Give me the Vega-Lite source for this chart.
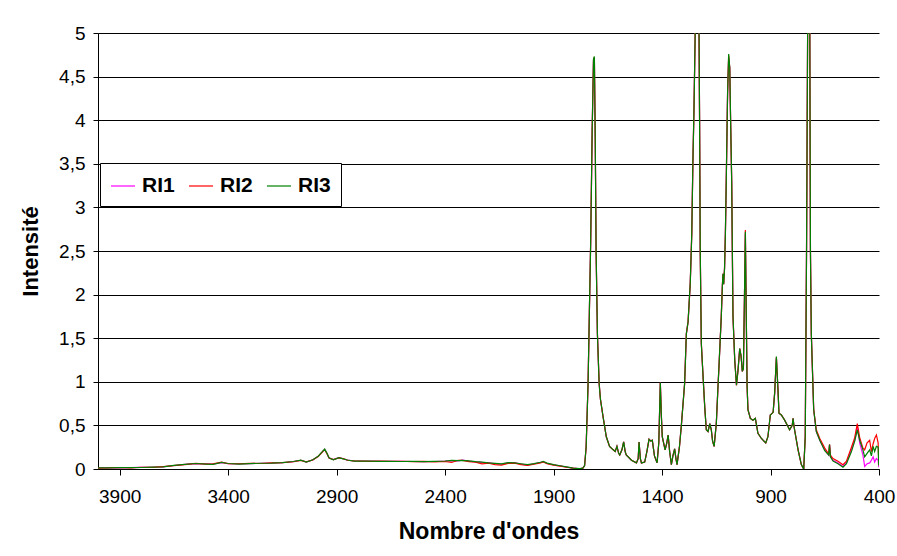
{
  "$schema": "https://vega.github.io/schema/vega-lite/v6.json",
  "width": 781,
  "height": 436,
  "autosize": {"type": "none"},
  "padding": {"left": 98, "top": 33, "right": 18, "bottom": 87},
  "background": "white",
  "config": {
    "font": "Liberation Sans",
    "view": {"stroke": null},
    "axis": {"labelColor": "black", "titleColor": "black", "domainColor": "black", "tickColor": "black", "labelFont": "Liberation Sans", "titleFont": "Liberation Sans"}
  },
  "data": {
    "values": [
      {"nombre": 4000, "RI1": 0.012, "RI2": 0.010, "RI3": 0.014},
      {"nombre": 3950, "RI1": 0.015, "RI2": 0.012, "RI3": 0.013},
      {"nombre": 3900, "RI1": 0.014, "RI2": 0.017, "RI3": 0.015},
      {"nombre": 3850, "RI1": 0.016, "RI2": 0.013, "RI3": 0.015},
      {"nombre": 3800, "RI1": 0.018, "RI2": 0.020, "RI3": 0.017},
      {"nombre": 3750, "RI1": 0.020, "RI2": 0.018, "RI3": 0.021},
      {"nombre": 3700, "RI1": 0.025, "RI2": 0.028, "RI3": 0.024},
      {"nombre": 3650, "RI1": 0.040, "RI2": 0.038, "RI3": 0.042},
      {"nombre": 3600, "RI1": 0.052, "RI2": 0.050, "RI3": 0.054},
      {"nombre": 3550, "RI1": 0.062, "RI2": 0.065, "RI3": 0.063},
      {"nombre": 3500, "RI1": 0.058, "RI2": 0.055, "RI3": 0.057},
      {"nombre": 3470, "RI1": 0.055, "RI2": 0.058, "RI3": 0.054},
      {"nombre": 3430, "RI1": 0.074, "RI2": 0.078, "RI3": 0.075},
      {"nombre": 3400, "RI1": 0.062, "RI2": 0.060, "RI3": 0.063},
      {"nombre": 3350, "RI1": 0.058, "RI2": 0.060, "RI3": 0.057},
      {"nombre": 3300, "RI1": 0.062, "RI2": 0.064, "RI3": 0.061},
      {"nombre": 3250, "RI1": 0.065, "RI2": 0.063, "RI3": 0.066},
      {"nombre": 3200, "RI1": 0.068, "RI2": 0.070, "RI3": 0.067},
      {"nombre": 3150, "RI1": 0.072, "RI2": 0.074, "RI3": 0.073},
      {"nombre": 3100, "RI1": 0.085, "RI2": 0.083, "RI3": 0.086},
      {"nombre": 3065, "RI1": 0.100, "RI2": 0.098, "RI3": 0.101},
      {"nombre": 3040, "RI1": 0.080, "RI2": 0.082, "RI3": 0.079},
      {"nombre": 3010, "RI1": 0.105, "RI2": 0.103, "RI3": 0.106},
      {"nombre": 2985, "RI1": 0.145, "RI2": 0.143, "RI3": 0.146},
      {"nombre": 2965, "RI1": 0.200, "RI2": 0.198, "RI3": 0.202},
      {"nombre": 2955, "RI1": 0.225, "RI2": 0.222, "RI3": 0.228},
      {"nombre": 2945, "RI1": 0.180, "RI2": 0.178, "RI3": 0.182},
      {"nombre": 2935, "RI1": 0.126, "RI2": 0.125, "RI3": 0.128},
      {"nombre": 2915, "RI1": 0.107, "RI2": 0.108, "RI3": 0.106},
      {"nombre": 2890, "RI1": 0.130, "RI2": 0.128, "RI3": 0.131},
      {"nombre": 2870, "RI1": 0.118, "RI2": 0.120, "RI3": 0.117},
      {"nombre": 2850, "RI1": 0.102, "RI2": 0.100, "RI3": 0.103},
      {"nombre": 2820, "RI1": 0.092, "RI2": 0.093, "RI3": 0.091},
      {"nombre": 2750, "RI1": 0.090, "RI2": 0.088, "RI3": 0.091},
      {"nombre": 2700, "RI1": 0.089, "RI2": 0.091, "RI3": 0.088},
      {"nombre": 2650, "RI1": 0.088, "RI2": 0.087, "RI3": 0.089},
      {"nombre": 2600, "RI1": 0.087, "RI2": 0.089, "RI3": 0.086},
      {"nombre": 2550, "RI1": 0.086, "RI2": 0.085, "RI3": 0.087},
      {"nombre": 2500, "RI1": 0.085, "RI2": 0.087, "RI3": 0.084},
      {"nombre": 2450, "RI1": 0.086, "RI2": 0.082, "RI3": 0.088},
      {"nombre": 2400, "RI1": 0.090, "RI2": 0.086, "RI3": 0.092},
      {"nombre": 2370, "RI1": 0.095, "RI2": 0.075, "RI3": 0.098},
      {"nombre": 2340, "RI1": 0.092, "RI2": 0.100, "RI3": 0.095},
      {"nombre": 2320, "RI1": 0.102, "RI2": 0.098, "RI3": 0.100},
      {"nombre": 2290, "RI1": 0.090, "RI2": 0.085, "RI3": 0.093},
      {"nombre": 2260, "RI1": 0.082, "RI2": 0.078, "RI3": 0.084},
      {"nombre": 2230, "RI1": 0.075, "RI2": 0.060, "RI3": 0.078},
      {"nombre": 2200, "RI1": 0.072, "RI2": 0.068, "RI3": 0.070},
      {"nombre": 2170, "RI1": 0.060, "RI2": 0.050, "RI3": 0.064},
      {"nombre": 2140, "RI1": 0.055, "RI2": 0.045, "RI3": 0.058},
      {"nombre": 2110, "RI1": 0.070, "RI2": 0.065, "RI3": 0.072},
      {"nombre": 2080, "RI1": 0.072, "RI2": 0.068, "RI3": 0.070},
      {"nombre": 2050, "RI1": 0.055, "RI2": 0.050, "RI3": 0.060},
      {"nombre": 2020, "RI1": 0.045, "RI2": 0.040, "RI3": 0.050},
      {"nombre": 1990, "RI1": 0.060, "RI2": 0.055, "RI3": 0.062},
      {"nombre": 1960, "RI1": 0.075, "RI2": 0.070, "RI3": 0.077},
      {"nombre": 1948, "RI1": 0.085, "RI2": 0.082, "RI3": 0.086},
      {"nombre": 1930, "RI1": 0.065, "RI2": 0.060, "RI3": 0.068},
      {"nombre": 1900, "RI1": 0.048, "RI2": 0.045, "RI3": 0.050},
      {"nombre": 1870, "RI1": 0.035, "RI2": 0.032, "RI3": 0.037},
      {"nombre": 1840, "RI1": 0.022, "RI2": 0.020, "RI3": 0.024},
      {"nombre": 1810, "RI1": 0.010, "RI2": 0.009, "RI3": 0.011},
      {"nombre": 1780, "RI1": 0.003, "RI2": 0.002, "RI3": 0.004},
      {"nombre": 1765, "RI1": 0.010, "RI2": 0.010, "RI3": 0.010},
      {"nombre": 1757, "RI1": 0.04, "RI2": 0.04, "RI3": 0.04},
      {"nombre": 1750, "RI1": 0.25, "RI2": 0.25, "RI3": 0.25},
      {"nombre": 1741, "RI1": 0.98, "RI2": 0.98, "RI3": 0.98},
      {"nombre": 1735, "RI1": 1.8, "RI2": 1.8, "RI3": 1.8},
      {"nombre": 1729, "RI1": 2.6, "RI2": 2.6, "RI3": 2.6},
      {"nombre": 1722, "RI1": 3.9, "RI2": 3.9, "RI3": 3.9},
      {"nombre": 1716, "RI1": 4.68, "RI2": 4.69, "RI3": 4.70},
      {"nombre": 1712, "RI1": 4.71, "RI2": 4.72, "RI3": 4.73},
      {"nombre": 1708, "RI1": 3.8, "RI2": 3.8, "RI3": 3.8},
      {"nombre": 1704, "RI1": 2.5, "RI2": 2.5, "RI3": 2.5},
      {"nombre": 1698, "RI1": 1.55, "RI2": 1.55, "RI3": 1.55},
      {"nombre": 1690, "RI1": 0.98, "RI2": 0.98, "RI3": 0.98},
      {"nombre": 1684, "RI1": 0.80, "RI2": 0.80, "RI3": 0.80},
      {"nombre": 1672, "RI1": 0.60, "RI2": 0.60, "RI3": 0.60},
      {"nombre": 1657, "RI1": 0.37, "RI2": 0.37, "RI3": 0.37},
      {"nombre": 1642, "RI1": 0.26, "RI2": 0.26, "RI3": 0.26},
      {"nombre": 1625, "RI1": 0.22, "RI2": 0.22, "RI3": 0.22},
      {"nombre": 1616, "RI1": 0.20, "RI2": 0.20, "RI3": 0.20},
      {"nombre": 1608, "RI1": 0.26, "RI2": 0.26, "RI3": 0.26},
      {"nombre": 1600, "RI1": 0.18, "RI2": 0.18, "RI3": 0.18},
      {"nombre": 1595, "RI1": 0.16, "RI2": 0.16, "RI3": 0.16},
      {"nombre": 1585, "RI1": 0.22, "RI2": 0.22, "RI3": 0.22},
      {"nombre": 1577, "RI1": 0.31, "RI2": 0.31, "RI3": 0.31},
      {"nombre": 1570, "RI1": 0.20, "RI2": 0.20, "RI3": 0.20},
      {"nombre": 1565, "RI1": 0.16, "RI2": 0.16, "RI3": 0.16},
      {"nombre": 1541, "RI1": 0.10, "RI2": 0.10, "RI3": 0.10},
      {"nombre": 1518, "RI1": 0.07, "RI2": 0.07, "RI3": 0.07},
      {"nombre": 1510, "RI1": 0.12, "RI2": 0.12, "RI3": 0.12},
      {"nombre": 1506, "RI1": 0.31, "RI2": 0.31, "RI3": 0.31},
      {"nombre": 1500, "RI1": 0.12, "RI2": 0.12, "RI3": 0.12},
      {"nombre": 1495, "RI1": 0.07, "RI2": 0.07, "RI3": 0.07},
      {"nombre": 1480, "RI1": 0.08, "RI2": 0.08, "RI3": 0.08},
      {"nombre": 1470, "RI1": 0.20, "RI2": 0.20, "RI3": 0.20},
      {"nombre": 1460, "RI1": 0.34, "RI2": 0.34, "RI3": 0.34},
      {"nombre": 1452, "RI1": 0.32, "RI2": 0.32, "RI3": 0.32},
      {"nombre": 1445, "RI1": 0.33, "RI2": 0.33, "RI3": 0.33},
      {"nombre": 1435, "RI1": 0.15, "RI2": 0.15, "RI3": 0.15},
      {"nombre": 1423, "RI1": 0.07, "RI2": 0.07, "RI3": 0.07},
      {"nombre": 1415, "RI1": 0.30, "RI2": 0.30, "RI3": 0.30},
      {"nombre": 1408, "RI1": 0.99, "RI2": 0.99, "RI3": 0.99},
      {"nombre": 1403, "RI1": 0.60, "RI2": 0.60, "RI3": 0.60},
      {"nombre": 1399, "RI1": 0.37, "RI2": 0.37, "RI3": 0.37},
      {"nombre": 1386, "RI1": 0.22, "RI2": 0.22, "RI3": 0.22},
      {"nombre": 1378, "RI1": 0.30, "RI2": 0.30, "RI3": 0.30},
      {"nombre": 1372, "RI1": 0.39, "RI2": 0.39, "RI3": 0.39},
      {"nombre": 1365, "RI1": 0.20, "RI2": 0.20, "RI3": 0.20},
      {"nombre": 1357, "RI1": 0.05, "RI2": 0.05, "RI3": 0.05},
      {"nombre": 1350, "RI1": 0.15, "RI2": 0.15, "RI3": 0.15},
      {"nombre": 1342, "RI1": 0.23, "RI2": 0.23, "RI3": 0.23},
      {"nombre": 1336, "RI1": 0.12, "RI2": 0.12, "RI3": 0.12},
      {"nombre": 1331, "RI1": 0.05, "RI2": 0.05, "RI3": 0.05},
      {"nombre": 1320, "RI1": 0.25, "RI2": 0.25, "RI3": 0.25},
      {"nombre": 1311, "RI1": 0.50, "RI2": 0.50, "RI3": 0.50},
      {"nombre": 1296, "RI1": 0.98, "RI2": 0.98, "RI3": 0.98},
      {"nombre": 1288, "RI1": 1.55, "RI2": 1.55, "RI3": 1.55},
      {"nombre": 1280, "RI1": 1.69, "RI2": 1.69, "RI3": 1.69},
      {"nombre": 1270, "RI1": 2.13, "RI2": 2.13, "RI3": 2.13},
      {"nombre": 1263, "RI1": 2.7, "RI2": 2.7, "RI3": 2.7},
      {"nombre": 1258, "RI1": 3.5, "RI2": 3.5, "RI3": 3.5},
      {"nombre": 1253, "RI1": 4.1, "RI2": 4.1, "RI3": 4.1},
      {"nombre": 1246, "RI1": 5.2, "RI2": 5.2, "RI3": 5.2},
      {"nombre": 1238, "RI1": 5.6, "RI2": 5.6, "RI3": 5.6},
      {"nombre": 1230, "RI1": 5.2, "RI2": 5.2, "RI3": 5.2},
      {"nombre": 1227, "RI1": 4.0, "RI2": 4.0, "RI3": 4.0},
      {"nombre": 1224, "RI1": 2.5, "RI2": 2.5, "RI3": 2.5},
      {"nombre": 1219, "RI1": 1.44, "RI2": 1.44, "RI3": 1.44},
      {"nombre": 1211, "RI1": 1.06, "RI2": 1.06, "RI3": 1.06},
      {"nombre": 1203, "RI1": 0.70, "RI2": 0.70, "RI3": 0.70},
      {"nombre": 1196, "RI1": 0.45, "RI2": 0.45, "RI3": 0.45},
      {"nombre": 1188, "RI1": 0.43, "RI2": 0.43, "RI3": 0.43},
      {"nombre": 1180, "RI1": 0.52, "RI2": 0.52, "RI3": 0.52},
      {"nombre": 1173, "RI1": 0.45, "RI2": 0.45, "RI3": 0.45},
      {"nombre": 1167, "RI1": 0.32, "RI2": 0.32, "RI3": 0.32},
      {"nombre": 1160, "RI1": 0.26, "RI2": 0.26, "RI3": 0.26},
      {"nombre": 1150, "RI1": 0.52, "RI2": 0.52, "RI3": 0.52},
      {"nombre": 1143, "RI1": 0.90, "RI2": 0.90, "RI3": 0.90},
      {"nombre": 1137, "RI1": 1.21, "RI2": 1.21, "RI3": 1.21},
      {"nombre": 1127, "RI1": 1.75, "RI2": 1.75, "RI3": 1.75},
      {"nombre": 1122, "RI1": 2.10, "RI2": 2.10, "RI3": 2.10},
      {"nombre": 1119, "RI1": 2.24, "RI2": 2.24, "RI3": 2.24},
      {"nombre": 1116, "RI1": 2.12, "RI2": 2.12, "RI3": 2.12},
      {"nombre": 1112, "RI1": 2.30, "RI2": 2.30, "RI3": 2.30},
      {"nombre": 1108, "RI1": 2.7, "RI2": 2.7, "RI3": 2.7},
      {"nombre": 1104, "RI1": 3.31, "RI2": 3.31, "RI3": 3.31},
      {"nombre": 1098, "RI1": 4.3, "RI2": 4.3, "RI3": 4.3},
      {"nombre": 1093, "RI1": 4.72, "RI2": 4.74, "RI3": 4.76},
      {"nombre": 1088, "RI1": 4.6, "RI2": 4.6, "RI3": 4.6},
      {"nombre": 1084, "RI1": 4.0, "RI2": 4.0, "RI3": 4.0},
      {"nombre": 1079, "RI1": 3.3, "RI2": 3.3, "RI3": 3.3},
      {"nombre": 1076, "RI1": 2.5, "RI2": 2.5, "RI3": 2.5},
      {"nombre": 1073, "RI1": 1.75, "RI2": 1.75, "RI3": 1.75},
      {"nombre": 1065, "RI1": 1.25, "RI2": 1.25, "RI3": 1.25},
      {"nombre": 1057, "RI1": 0.96, "RI2": 0.96, "RI3": 0.96},
      {"nombre": 1050, "RI1": 1.13, "RI2": 1.13, "RI3": 1.13},
      {"nombre": 1042, "RI1": 1.38, "RI2": 1.38, "RI3": 1.38},
      {"nombre": 1036, "RI1": 1.30, "RI2": 1.30, "RI3": 1.30},
      {"nombre": 1030, "RI1": 1.12, "RI2": 1.12, "RI3": 1.12},
      {"nombre": 1025, "RI1": 1.15, "RI2": 1.15, "RI3": 1.15},
      {"nombre": 1020, "RI1": 2.0, "RI2": 2.0, "RI3": 2.0},
      {"nombre": 1016, "RI1": 2.70, "RI2": 2.74, "RI3": 2.72},
      {"nombre": 1012, "RI1": 1.8, "RI2": 1.8, "RI3": 1.8},
      {"nombre": 1008, "RI1": 0.95, "RI2": 0.95, "RI3": 0.95},
      {"nombre": 1004, "RI1": 0.68, "RI2": 0.68, "RI3": 0.68},
      {"nombre": 993, "RI1": 0.58, "RI2": 0.58, "RI3": 0.58},
      {"nombre": 981, "RI1": 0.56, "RI2": 0.56, "RI3": 0.56},
      {"nombre": 970, "RI1": 0.58, "RI2": 0.58, "RI3": 0.58},
      {"nombre": 958, "RI1": 0.41, "RI2": 0.41, "RI3": 0.41},
      {"nombre": 942, "RI1": 0.35, "RI2": 0.35, "RI3": 0.35},
      {"nombre": 922, "RI1": 0.30, "RI2": 0.30, "RI3": 0.30},
      {"nombre": 912, "RI1": 0.37, "RI2": 0.37, "RI3": 0.37},
      {"nombre": 901, "RI1": 0.62, "RI2": 0.62, "RI3": 0.62},
      {"nombre": 888, "RI1": 0.65, "RI2": 0.65, "RI3": 0.65},
      {"nombre": 881, "RI1": 0.87, "RI2": 0.87, "RI3": 0.87},
      {"nombre": 873, "RI1": 1.27, "RI2": 1.28, "RI3": 1.29},
      {"nombre": 865, "RI1": 0.87, "RI2": 0.87, "RI3": 0.87},
      {"nombre": 861, "RI1": 0.64, "RI2": 0.64, "RI3": 0.64},
      {"nombre": 850, "RI1": 0.62, "RI2": 0.62, "RI3": 0.62},
      {"nombre": 835, "RI1": 0.56, "RI2": 0.56, "RI3": 0.56},
      {"nombre": 812, "RI1": 0.45, "RI2": 0.45, "RI3": 0.45},
      {"nombre": 800, "RI1": 0.50, "RI2": 0.50, "RI3": 0.50},
      {"nombre": 796, "RI1": 0.58, "RI2": 0.58, "RI3": 0.58},
      {"nombre": 792, "RI1": 0.49, "RI2": 0.49, "RI3": 0.49},
      {"nombre": 773, "RI1": 0.22, "RI2": 0.22, "RI3": 0.22},
      {"nombre": 758, "RI1": 0.05, "RI2": 0.05, "RI3": 0.05},
      {"nombre": 747, "RI1": 0.0, "RI2": 0.0, "RI3": 0.0},
      {"nombre": 740, "RI1": 0.37, "RI2": 0.37, "RI3": 0.37},
      {"nombre": 734, "RI1": 2.5, "RI2": 2.5, "RI3": 2.5},
      {"nombre": 729, "RI1": 5.0, "RI2": 5.0, "RI3": 5.0},
      {"nombre": 724, "RI1": 6.0, "RI2": 6.0, "RI3": 6.0},
      {"nombre": 719, "RI1": 5.0, "RI2": 5.0, "RI3": 5.0},
      {"nombre": 716, "RI1": 2.5, "RI2": 2.5, "RI3": 2.5},
      {"nombre": 712, "RI1": 1.55, "RI2": 1.55, "RI3": 1.55},
      {"nombre": 701, "RI1": 0.68, "RI2": 0.68, "RI3": 0.68},
      {"nombre": 689, "RI1": 0.43, "RI2": 0.45, "RI3": 0.43},
      {"nombre": 673, "RI1": 0.33, "RI2": 0.35, "RI3": 0.33},
      {"nombre": 650, "RI1": 0.22, "RI2": 0.24, "RI3": 0.21},
      {"nombre": 632, "RI1": 0.16, "RI2": 0.17, "RI3": 0.16},
      {"nombre": 628, "RI1": 0.28, "RI2": 0.28, "RI3": 0.28},
      {"nombre": 624, "RI1": 0.15, "RI2": 0.16, "RI3": 0.14},
      {"nombre": 612, "RI1": 0.10, "RI2": 0.12, "RI3": 0.09},
      {"nombre": 589, "RI1": 0.07, "RI2": 0.09, "RI3": 0.06},
      {"nombre": 566, "RI1": 0.03, "RI2": 0.05, "RI3": 0.02},
      {"nombre": 550, "RI1": 0.07, "RI2": 0.09, "RI3": 0.06},
      {"nombre": 527, "RI1": 0.22, "RI2": 0.25, "RI3": 0.20},
      {"nombre": 512, "RI1": 0.33, "RI2": 0.36, "RI3": 0.32},
      {"nombre": 500, "RI1": 0.48, "RI2": 0.52, "RI3": 0.45},
      {"nombre": 489, "RI1": 0.30, "RI2": 0.36, "RI3": 0.33},
      {"nombre": 474, "RI1": 0.16, "RI2": 0.24, "RI3": 0.22},
      {"nombre": 466, "RI1": 0.03, "RI2": 0.22, "RI3": 0.14},
      {"nombre": 455, "RI1": 0.06, "RI2": 0.30, "RI3": 0.18},
      {"nombre": 443, "RI1": 0.07, "RI2": 0.33, "RI3": 0.22},
      {"nombre": 435, "RI1": 0.10, "RI2": 0.20, "RI3": 0.15},
      {"nombre": 427, "RI1": 0.14, "RI2": 0.29, "RI3": 0.26},
      {"nombre": 420, "RI1": 0.08, "RI2": 0.35, "RI3": 0.20},
      {"nombre": 412, "RI1": 0.12, "RI2": 0.39, "RI3": 0.26},
      {"nombre": 404, "RI1": 0.10, "RI2": 0.30, "RI3": 0.25},
      {"nombre": 401, "RI1": 0.02, "RI2": 0.05, "RI3": 0.04}
    ]
  },
  "transform": [{"fold": ["RI1", "RI2", "RI3"], "as": ["serie", "intensite"]}],
  "mark": {"type": "line", "strokeWidth": 1.2, "clip": true},
  "encoding": {
    "x": {
      "field": "nombre",
      "type": "quantitative",
      "scale": {"domain": [400, 4000], "reverse": true, "nice": false, "zero": false},
      "axis": {
        "title": "Nombre d'ondes",
        "values": [3900, 3400, 2900, 2400, 1900, 1400, 900, 400],
        "format": "d",
        "grid": false,
        "labelFontSize": 19,
        "labelPadding": 12,
        "tickSize": 6,
        "titleFontSize": 23,
        "titleFontWeight": "bold",
        "titlePadding": 14,
        "labelFlush": false
      }
    },
    "y": {
      "field": "intensite",
      "type": "quantitative",
      "scale": {"domain": [0, 5], "nice": false},
      "axis": {
        "title": "Intensité",
        "values": [0, 0.5, 1, 1.5, 2, 2.5, 3, 3.5, 4, 4.5, 5],
        "labelExpr": "replace(format(datum.value, '~g'), '.', ',')",
        "grid": true,
        "gridColor": "black",
        "gridWidth": 1,
        "gridOpacity": 1,
        "labelFontSize": 19,
        "labelPadding": 8,
        "tickSize": 5,
        "titleFontSize": 22,
        "titleFontWeight": "bold",
        "titlePadding": 16
      }
    },
    "color": {
      "field": "serie",
      "type": "nominal",
      "scale": {"domain": ["RI1", "RI2", "RI3"], "range": ["#ff00ff", "#ff0000", "#008000"]},
      "legend": {
        "title": null,
        "orient": "none",
        "legendX": 2,
        "legendY": 130,
        "direction": "horizontal",
        "symbolType": "stroke",
        "symbolSize": 576,
        "symbolStrokeWidth": 1.2,
        "labelFontSize": 21,
        "labelFontWeight": "bold",
        "labelColor": "black",
        "labelOffset": 6,
        "columnPadding": 11,
        "padding": 10,
        "strokeColor": "black",
        "fillColor": "white"
      }
    }
  }
}
